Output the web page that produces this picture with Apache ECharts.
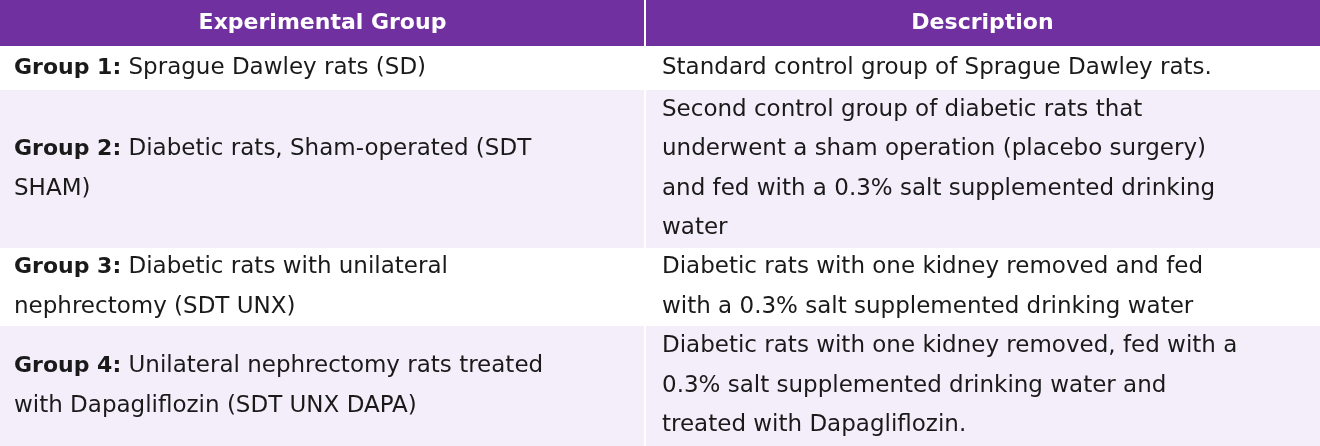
<!DOCTYPE html>
<html><head><meta charset="utf-8">
<script src="https://cdn.jsdelivr.net/npm/echarts@6/dist/echarts.min.js"></script>
<style>html,body{margin:0;padding:0;background:#fff}#c{width:1320px;height:446px}</style>
</head><body><div id="c"></div>
<script>
var headers = ['Experimental Group', 'Description'];
var groupLabels = ['Group 1:', 'Group 2:', 'Group 3:', 'Group 4:'];
var groupTexts = [
  'Sprague Dawley rats (SD)',
  'Diabetic rats, Sham-operated (SDT\nSHAM)',
  'Diabetic rats with unilateral\nnephrectomy (SDT UNX)',
  'Unilateral nephrectomy rats treated\nwith Dapagliflozin (SDT UNX DAPA)'
];
var descriptions = [
  'Standard control group of Sprague Dawley rats.',
  'Second control group of diabetic rats that\nunderwent a sham operation (placebo surgery)\nand fed with a 0.3% salt supplemented drinking\nwater',
  'Diabetic rats with one kidney removed and fed\nwith a 0.3% salt supplemented drinking water',
  'Diabetic rats with one kidney removed, fed with a\n0.3% salt supplemented drinking water and\ntreated with Dapagliflozin.'
];
var rowBounds = [46, 90, 248, 326, 446];

var W = 1320, split = 645, font = '"DejaVu Sans"', fs = 23, lh = 39.5;
var els = [];
els.push({type:'rect', shape:{x:0,y:0,width:W,height:46}, style:{fill:'#7030a0'}});
els.push({type:'text', x:split/2, y:23, style:{text:headers[0], fill:'#fff', font:'bold 22px '+font, textAlign:'center', textVerticalAlign:'middle'}});
els.push({type:'text', x:(split+W)/2, y:23, style:{text:headers[1], fill:'#fff', font:'bold 22px '+font, textAlign:'center', textVerticalAlign:'middle'}});
for (var i = 0; i < groupTexts.length; i++) {
  var y0 = rowBounds[i], y1 = rowBounds[i+1], cy = (y0+y1)/2;
  els.push({type:'rect', shape:{x:0,y:y0,width:W,height:y1-y0}, style:{fill: i%2 ? '#f3eefa' : '#ffffff'}});
  els.push({type:'text', x:14, y:cy, style:{
    text:'{b|'+groupLabels[i]+'} '+groupTexts[i],
    rich:{b:{fontWeight:'bold', fontFamily:'DejaVu Sans', fontSize:fs-1, fill:'#1a1a1a', lineHeight:lh}},
    fill:'#1a1a1a', fontFamily:'DejaVu Sans', fontSize:fs, lineHeight:lh, verticalAlign:'middle', align:'left'}});
  els.push({type:'text', x:662, y:cy, style:{text:descriptions[i], fill:'#1a1a1a', fontFamily:'DejaVu Sans', fontSize:fs, lineHeight:lh, verticalAlign:'middle', align:'left'}});
}
els.push({type:'rect', shape:{x:split-1,y:0,width:2,height:446}, style:{fill:'#ffffff'}});
var chart = echarts.init(document.getElementById('c'));
chart.setOption({animation:false, graphic:{elements:els}});
</script></body></html>
